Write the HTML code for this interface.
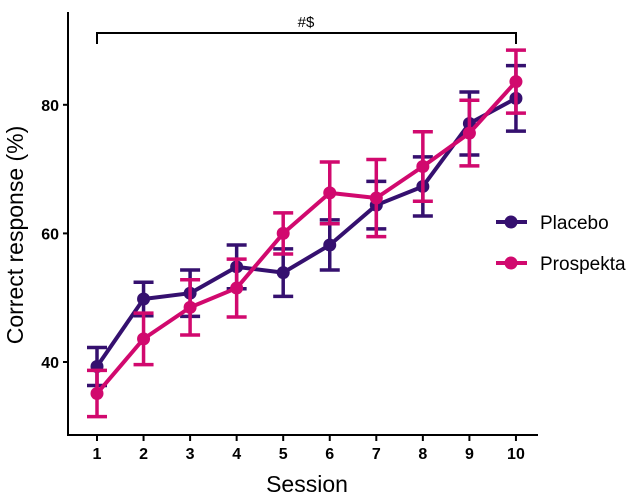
<!DOCTYPE html>
<html><head><meta charset="utf-8"><style>
body{margin:0;background:#fff}
svg{display:block;font-family:"Liberation Sans",sans-serif}
</style></head><body>
<svg id="c" width="638" height="495" viewBox="0 0 638 495"></svg>
<script>
const sessions=[1,2,3,4,5,6,7,8,9,10];
const placeboMean=[39.3,49.8,50.7,54.8,53.9,58.2,64.4,67.3,77.1,81.0];
const placeboSE=[2.95,2.6,3.6,3.4,3.7,3.9,3.7,4.6,4.9,5.1];
const prospektaMean=[35.1,43.6,48.5,51.5,60.0,66.3,65.5,70.4,75.6,83.6];
const prospektaSE=[3.6,4.0,4.3,4.5,3.2,4.8,6.0,5.4,5.1,4.9];
const yTicks=[40,60,80];
const seriesNames=["Placebo","Prospekta"];
const colors=["#35106f","#d1096e"];
const NS="http://www.w3.org/2000/svg";
const svg=document.getElementById('c');
function x(s){return 97+(s-1)*46.55;}
function y(v){return 362-(v-40)*6.43;}
function el(t,a,p){const e=document.createElementNS(NS,t);for(const k in a)e.setAttribute(k,a[k]);(p||svg).appendChild(e);return e;}
// axes
let ax=el('line',{x1:68,y1:12,x2:68,y2:436,stroke:'#000','stroke-width':2});


let axx=el('line',{x1:67,y1:435,x2:538,y2:435,stroke:'#000','stroke-width':2});


yTicks.forEach(v=>{
  el('line',{x1:63,y1:y(v),x2:68,y2:y(v),stroke:'#000','stroke-width':2});
  const t=el('text',{x:59,y:y(v)+6,'text-anchor':'end','font-size':16,'font-weight':'bold'});t.textContent=v;
  
  
});
sessions.forEach(s=>{
  el('line',{x1:x(s),y1:435,x2:x(s),y2:441,stroke:'#000','stroke-width':2});
  const t=el('text',{x:x(s),y:459,'text-anchor':'middle','font-size':16,'font-weight':'bold'});t.textContent=s;
  
  
});
let xl=el('text',{x:307,y:492,'text-anchor':'middle','font-size':23});xl.textContent='Session';


let yl=el('text',{x:0,y:0,'text-anchor':'middle','font-size':23,transform:'translate(23,235) rotate(-90)'});yl.textContent='Correct response (%)';


// bracket
let br=el('path',{d:'M97,44V33H516V44',fill:'none',stroke:'#000','stroke-width':2});


let bt=el('text',{x:306,y:27,'text-anchor':'middle','font-size':15});bt.textContent='#$';


function drawSeries(means,se,col,name){
  const g=el('g',{});
  
  
  means.forEach((m,i)=>{
    const s=sessions[i],yt=y(m+se[i]),yb=y(m-se[i]);
    const e=el('path',{d:`M${x(s)},${yt}V${yb}M${x(s)-10},${yt}H${x(s)+10}M${x(s)-10},${yb}H${x(s)+10}`,stroke:col,'stroke-width':3.5,fill:'none'},g);
    
    
  });
  const l=el('polyline',{points:means.map((m,i)=>x(sessions[i])+','+y(m)).join(' '),fill:'none',stroke:col,'stroke-width':4,'stroke-linejoin':'round'},g);
  
  
  means.forEach((m,i)=>{
    const c=el('circle',{cx:x(sessions[i]),cy:y(m),r:6.5,fill:col},g);
    
    
  });
}
drawSeries(placeboMean,placeboSE,colors[0],'placebo');
drawSeries(prospektaMean,prospektaSE,colors[1],'prospekta');
// legend
seriesNames.forEach((n,i)=>{
  const yy=222+i*41;
  const g=el('g',{});
  
  
  el('line',{x1:496,y1:yy,x2:527,y2:yy,stroke:colors[i],'stroke-width':4},g);
  el('circle',{cx:511,cy:yy,r:6.5,fill:colors[i]},g);
  const t=el('text',{x:540,y:yy+7,'font-size':19},g);t.textContent=n;
});
</script>
</body></html>
